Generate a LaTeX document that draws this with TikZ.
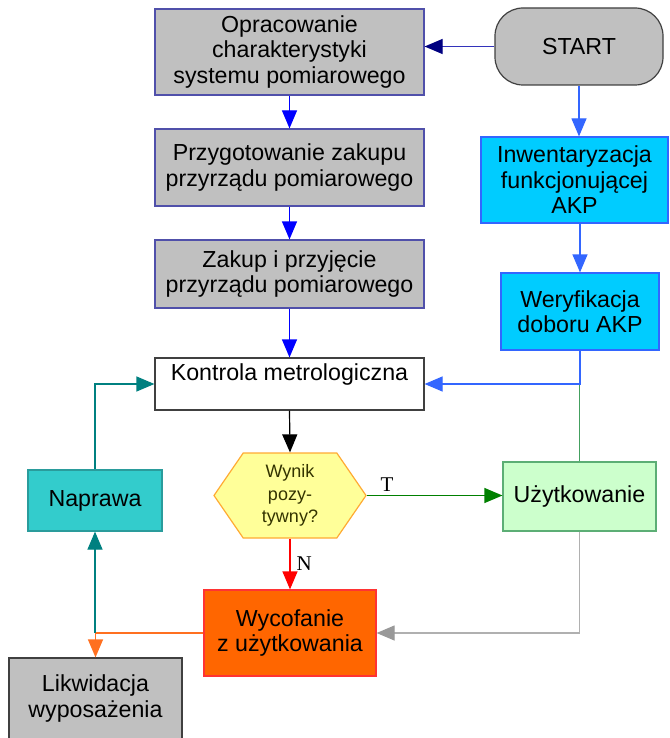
\documentclass[tikz,border=0pt]{standalone}
\usepackage{fontspec}
\setmainfont{Liberation Sans}
\newfontfamily\labelfont{Liberation Serif}
\usepackage{xcolor}
\usepackage{tikz}
\usetikzlibrary{positioning, arrows.meta, shapes.symbols}

\definecolor{boxgray}{HTML}{C0C0C0}
\definecolor{edgeblue}{HTML}{5050AA}
\definecolor{darkedge}{HTML}{404040}
\definecolor{navyline}{HTML}{3333BB}
\definecolor{navyhead}{HTML}{000080}
\definecolor{pureblue}{HTML}{0000FF}
\definecolor{lightblue}{HTML}{3366FF}
\definecolor{cyanfill}{HTML}{00CCFF}
\definecolor{tealfill}{HTML}{33CCCC}
\definecolor{tealedge}{HTML}{2A9C9C}
\definecolor{tealline}{HTML}{008080}
\definecolor{hexfill}{HTML}{FFFF99}
\definecolor{hexedge}{HTML}{FFAA33}
\definecolor{hextext}{HTML}{333300}
\definecolor{greenfill}{HTML}{CCFFCC}
\definecolor{greenedge}{HTML}{5CAE75}
\definecolor{greenline}{HTML}{44A060}
\definecolor{darkgreen}{HTML}{008000}
\definecolor{orangefill}{HTML}{FF6600}
\definecolor{orangeedge}{HTML}{FF3333}
\definecolor{orangeline}{HTML}{FF7020}
\definecolor{grayline}{HTML}{B0B0B0}
\definecolor{grayhead}{HTML}{999999}

\begin{document}
\begin{tikzpicture}[x=1pt, y=-1pt,
    every node/.style={font=\fontsize{23.2}{25.5}\selectfont, align=center, inner sep=0pt, line width=1.2pt},
    graybox/.style={draw=edgeblue, fill=boxgray, minimum width=269pt},
    bluebox/.style={draw=lightblue, fill=cyanfill},
    startbox/.style={draw=darkedge, fill=boxgray, rounded corners=28pt, minimum width=168pt, minimum height=77pt},
    hexbox/.style={signal, signal to=west and east, signal pointer angle=111, draw=hexedge, fill=hexfill,
        minimum width=152pt, minimum height=85pt, text=hextext, font=\fontsize{18}{22.5}\selectfont},
    labeltext/.style={font=\labelfont\fontsize{21}{21}\selectfont},
    flowto/.style={draw=#1, line width=1.2pt, -{Triangle[length=18pt, width=15pt]}},
    plainline/.style={draw=#1, line width=1.2pt}
]
    \useasboundingbox (0,0) rectangle (669,738);
    \clip (0,0) rectangle (669,738);

    \node[graybox, minimum height=86pt] (node1_1) at (289.5,52) {Opracowanie\\charakterystyki\\systemu pomiarowego};
    \node[startbox] (node1_2) at (579,46.5) {START};
    \node[graybox, minimum height=77pt] (node2_1) at (289.5,167.5) {Przygotowanie zakupu\\przyrządu pomiarowego};
    \node[bluebox, minimum width=187pt, minimum height=86pt] (node2_2) at (574.5,180) {Inwentaryzacja\\funkcjonującej\\AKP};
    \node[graybox, minimum height=68pt] (node3_1) at (289.5,274) {Zakup i przyjęcie\\przyrządu pomiarowego};
    \node[bluebox, minimum width=158pt, minimum height=77pt] (node3_2) at (580,311.5) {Weryfikacja\\doboru AKP};
    \node[draw=darkedge, fill=white, minimum width=269pt, minimum height=52pt, text height=16pt, text depth=24pt] (node4_1) at (289.5,384) {Kontrola metrologiczna};
    \node[draw=tealedge, fill=tealfill, minimum width=134pt, minimum height=61pt] (node5_1) at (95,500.5) {Naprawa};
    \node[hexbox] (node5_2) at (290,495.5) {Wynik\\pozy-\\tywny?};
    \node[draw=greenedge, fill=greenfill, minimum width=153pt, minimum height=69pt] (node5_3) at (579.5,496.5) {Użytkowanie};
    \node[draw=darkedge, fill=boxgray, minimum width=173pt, minimum height=81pt] (node6_1) at (95.5,698.5) {Likwidacja\\wyposażenia};
    \node[draw=orangeedge, fill=orangefill, minimum width=172pt, minimum height=86pt] (node6_2) at (290,633) {Wycofanie\\z użytkowania};

    \draw[flowto=navyline, -{Triangle[length=18pt, width=15pt, color=navyhead]}] (node1_2.west) -- (node1_2.west -| node1_1.east);
    \draw[flowto=pureblue] (node1_1) -- (node2_1);
    \draw[flowto=pureblue] (node2_1) -- (node3_1);
    \draw[flowto=pureblue] (node3_1) -- (node4_1);
    \draw[flowto=black] (node4_1.south) -- (node5_2.north);
    \draw[flowto=lightblue] (node1_2.south) -- (node1_2.south |- node2_2.north);
    \draw[flowto=lightblue] (node3_2.north |- node2_2.south) -- (node3_2.north);
    \draw[plainline=greenline] (node5_3.north) -- (node5_3.north |- node4_1.east);
    \draw[flowto=lightblue] (node3_2.south) |- (node4_1.east);
    \draw[flowto=darkgreen] (node5_2.east) -- (node5_2.east -| node5_3.west) node[pos=0.15, above=3pt, labeltext] {T};
    \draw[flowto=red] (node5_2.south) -- (node6_2.north) node[midway, right=6pt, labeltext] {N};
    \draw[flowto=grayline, -{Triangle[length=18pt, width=15pt, color=grayhead]}] (node5_3.south) |- (node6_2.east);
    \draw[flowto=orangeline] (node6_2.west) -| (node6_1.north);
    \draw[flowto=tealline] (node6_2.west -| node5_1.south) -- (node5_1.south);
    \draw[flowto=tealline] (node5_1.north) |- (node4_1.west);
\end{tikzpicture}
\end{document}
